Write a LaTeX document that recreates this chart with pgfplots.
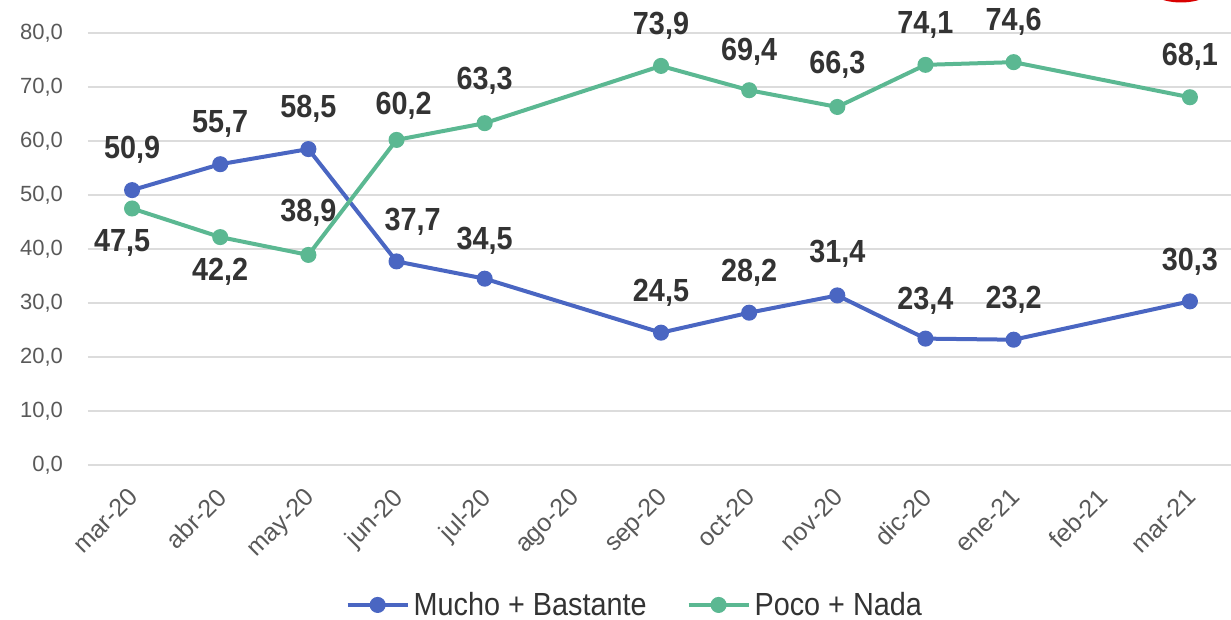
\documentclass[border=0pt]{standalone}
\usepackage{fontspec}
\setmainfont{Liberation Sans}
\newfontfamily\condfont[FakeStretch=0.9]{Liberation Sans}
\usepackage{pgfplots}
\usepackage{pgfplotstable}
\pgfplotsset{compat=1.18}
\definecolor{cblue}{HTML}{4A66C2}
\definecolor{cgreen}{HTML}{5BB892}
\definecolor{lblgray}{HTML}{333333}
\definecolor{tickgray}{HTML}{595959}
\definecolor{gridgray}{HTML}{DCDCDC}

\pgfplotstableread{
x y dx dy
0 50.9 0 20
1 55.7 0 20
2 58.5 0 20
3 37.7 8 20
4 34.5 0 19
6 24.5 0 20
7 28.2 0 20
8 31.4 0 21
9 23.4 0 19
10 23.2 0 20
12 30.3 0 20
}\blue

\pgfplotstableread{
x y dx dy
0 47.5 -5 -17
1 42.2 0 -17.5
2 38.9 0 21
3 60.2 3.5 17
4 63.3 0 21
6 73.9 0 20
7 69.4 0 19
8 66.3 0 21
9 74.1 0 20
10 74.6 0 20
12 68.1 0 20
}\green

\begin{document}
\begin{tikzpicture}
\begin{axis}[
  name=ax,
  scale only axis,
  width=573pt, height=216pt,
  xmin=-0.5, xmax=12.5,
  ymin=0, ymax=80,
  clip=false,
  axis line style={draw=none},
  major tick length=0pt,
  ymajorgrids,
  grid style={gridgray, line width=0.8pt},
  xtick={0,...,12},
  xticklabels={mar-20,abr-20,may-20,jun-20,jul-20,ago-20,sep-20,oct-20,nov-20,dic-20,ene-21,feb-21,mar-21},
  ytick={0,10,...,80},
  yticklabel={\pgfmathprintnumber[fixed,fixed zerofill,precision=1,use comma,assume math mode=true]{\tick}},
  yticklabel style={font=\fontsize{11}{12}\selectfont, text=tickgray, anchor=east, xshift=-9pt},
  xticklabel style={font=\fontsize{12.5}{14}\selectfont, text=tickgray, inner sep=0pt, xshift=-2.5pt, yshift=-10.5pt, rotate=45, anchor=north east},
  nodes near coords={\pgfmathprintnumber[fixed,fixed zerofill,precision=1,use comma,assume math mode=true]{\pgfplotspointmeta}},
  point meta=y,
  visualization depends on={\thisrow{dx} \as \dx},
  visualization depends on={\thisrow{dy} \as \dy},
  every node near coord/.append style={font=\condfont\bfseries\fontsize{16}{18}\selectfont, text=lblgray, anchor=center, xshift=\dx pt, yshift=\dy pt},
  legend style={at={(0.478,-0.324)}, anchor=center, draw=none, fill=none, legend columns=2,
    font=\condfont\fontsize{16}{18}\selectfont, text=lblgray,
    /tikz/every even column/.append style={column sep=18pt}},
  legend image code/.code={\draw[mark repeat=2,mark phase=2] plot coordinates {(0pt,0pt) (15pt,0pt) (30pt,0pt)};},
]
\addplot[cblue, line width=2pt, mark=*, mark size=3pt, mark options={solid}] table[x=x,y=y] {\blue};
\addlegendentry{Mucho + Bastante}
\addplot[cgreen, line width=2pt, mark=*, mark size=3pt, mark options={solid}] table[x=x,y=y] {\green};
\addlegendentry{Poco + Nada}
\end{axis}
\draw[red!85!black, line width=1.5pt] ([xshift=546.5pt,yshift=27pt]ax.north west) ellipse [x radius=19pt, y radius=11pt];
\pgfresetboundingbox
\path ([xshift=-44pt,yshift=-77.5pt]ax.south west) rectangle ([xshift=-1.5pt,yshift=16.5pt]ax.north east);
\end{tikzpicture}
\end{document}
